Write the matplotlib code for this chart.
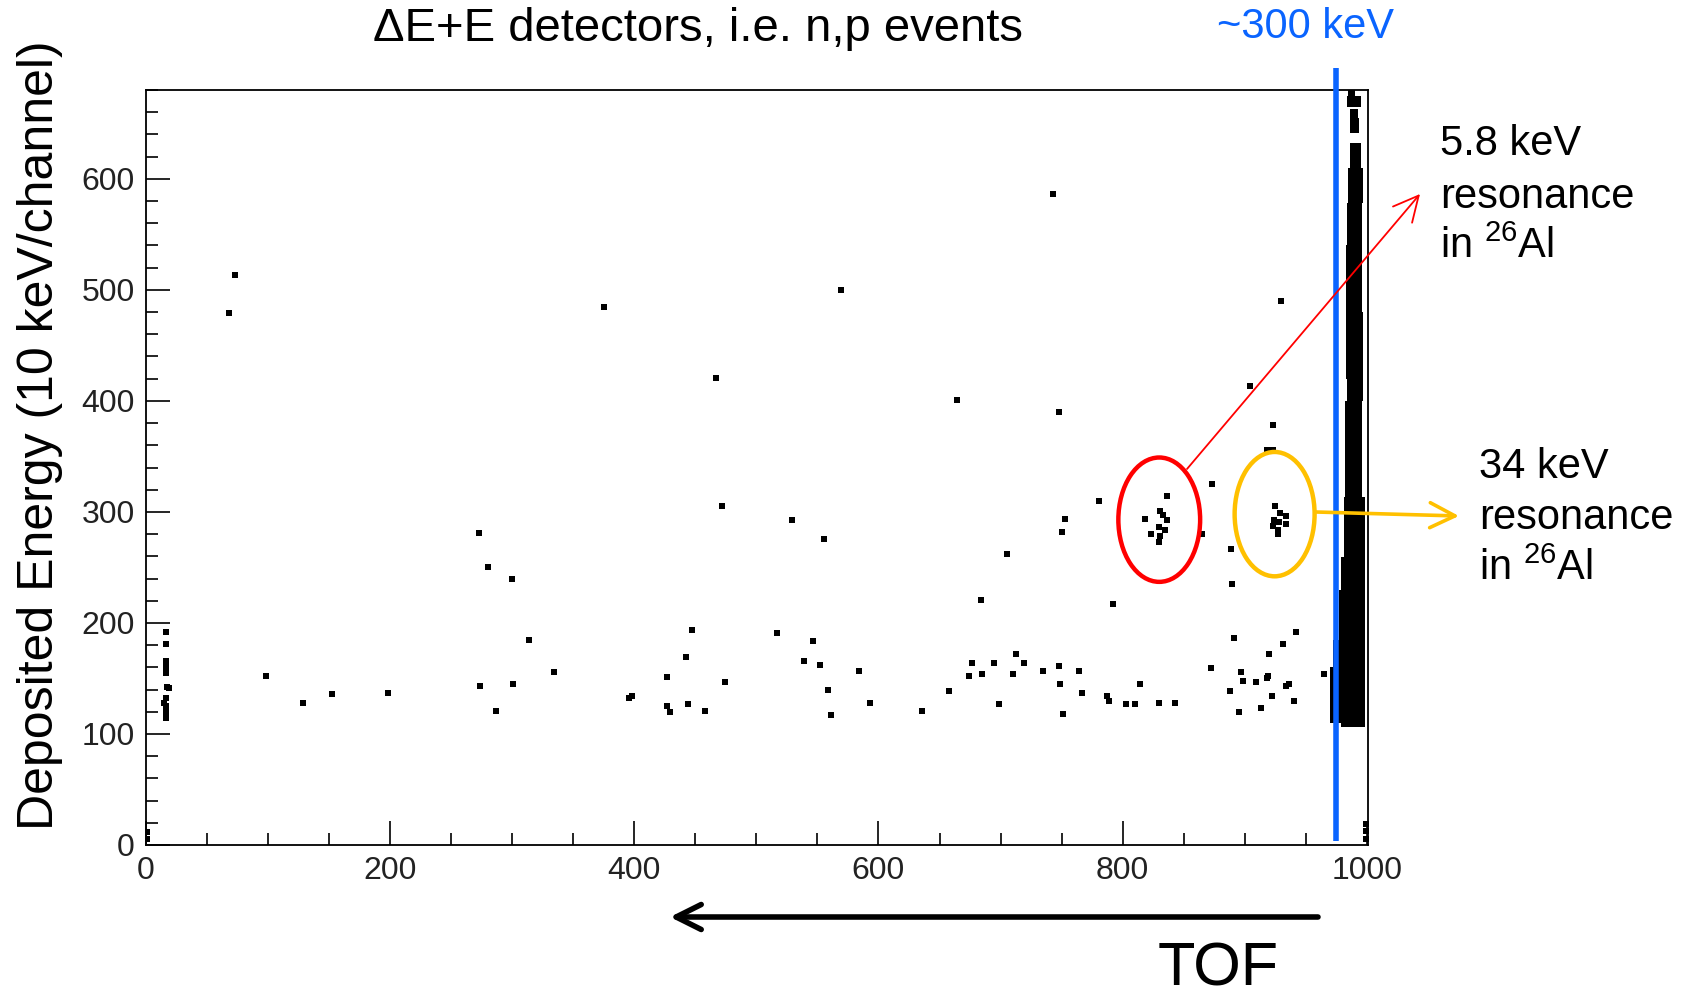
import matplotlib
matplotlib.use("Agg")
import matplotlib.pyplot as plt
from matplotlib.patches import Ellipse
from matplotlib.ticker import MultipleLocator

plt.rcParams['font.family'] = ['Liberation Sans', 'DejaVu Sans']
plt.rcParams['mathtext.fontset'] = 'custom'
plt.rcParams['mathtext.rm'] = 'Liberation Sans'

# ---------------- data (TOF channel, deposited energy channel) ----------------
tof = [16, 16, 16, 16, 16, 17, 19, 16, 15, 16, 16, 16, 16, 1, 1,
       68, 73, 98, 129, 152, 198,
       273, 280, 300, 314, 274, 287, 301, 334, 375,
       396, 398, 427, 427, 429, 442, 444, 447, 458, 474, 467, 472,
       517, 529, 539, 546, 552, 555, 559, 561, 569,
       584, 593, 636, 658, 664, 674, 677, 684, 685, 695, 699, 705, 710, 713,
       719, 735, 743, 748, 749, 751, 748, 753, 750, 764, 767, 781, 787, 789,
       792, 803, 810, 814, 830, 843,
       836, 818, 831, 833, 836, 830, 835, 823, 831, 830,
       865, 873, 872, 888, 889, 890, 891, 895, 897, 899, 904, 909, 913, 918,
       919, 920, 922, 918, 923, 923, 930, 931, 934, 936, 940, 942, 965,
       925, 929, 934, 924, 928, 934, 923, 927, 927,
       999, 999, 999]
energy = [192, 181, 166, 160, 155, 142, 141, 132, 128, 125, 121, 118, 114, 5, 12,
          479, 513, 152, 128, 136, 137,
          281, 250, 240, 185, 143, 121, 145, 156, 485,
          132, 134, 151, 125, 120, 169, 127, 194, 121, 147, 421, 305,
          191, 293, 166, 184, 162, 276, 140, 117, 500,
          157, 128, 121, 139, 401, 152, 164, 221, 154, 164, 127, 262, 154, 172,
          164, 157, 586, 161, 145, 118, 390, 294, 282, 157, 137, 310, 134, 130,
          217, 127, 127, 145, 128, 128,
          314, 294, 301, 297, 293, 286, 284, 280, 278, 273,
          280, 325, 159, 139, 267, 235, 186, 120, 156, 148, 413, 147, 123, 150,
          152, 172, 134, 356, 356, 378, 490, 181, 143, 145, 130, 192, 154,
          305, 299, 296, 293, 291, 289, 287, 284, 280,
          5, 13, 19]

# dense band of events near TOF ~ 1000 (energy strips with TOF extent)
band_e_low = [675, 665, 655, 641, 610, 578, 540, 480, 420, 400, 313, 259, 230, 185, 160, 110, 106]
band_e_high = [682, 675, 663, 655, 632, 610, 578, 540, 480, 420, 400, 313, 259, 230, 185, 160, 110]
band_left = [985, 984, 986, 986, 986, 985, 984, 983, 983, 983.5, 982, 981, 979, 977, 972, 970, 979]
band_right = [990, 995, 993, 994, 995, 997, 996, 996, 997, 997, 996, 998.5, 998.5, 998.5, 998.5, 998.5, 998.5]

cut_tof = 975  # ~300 keV line
red_center, red_w, red_h = (830, 293), 67, 112
yel_center, yel_w, yel_h = (924.5, 298), 65.5, 112

x_ticks = [0, 200, 400, 600, 800, 1000]
y_ticks = [0, 100, 200, 300, 400, 500, 600]

# ---------------- figure ----------------
W, H = 1694, 1001
fig = plt.figure(figsize=(W / 100, H / 100), dpi=100)
ax = fig.add_axes([146 / W, 1 - 845 / H, (1368 - 146) / W, (845 - 90) / H])
ax.set_xlim(0, 1001)
ax.set_ylim(0, 680)

# band
centers = [(lo + hi) / 2 for lo, hi in zip(band_e_low, band_e_high)]
heights = [hi - lo for lo, hi in zip(band_e_low, band_e_high)]
widths = [r - l for l, r in zip(band_left, band_right)]
ax.barh(centers, widths, height=heights, left=band_left, color='black',
        edgecolor='none', zorder=2)

ax.plot(tof, energy, linestyle='none', marker='s', ms=4.6, mew=0, color='black', zorder=3)

# ellipses
ax.add_patch(Ellipse(red_center, red_w, red_h, fill=False, ec='#ff0000', lw=3.2, zorder=4))
ax.add_patch(Ellipse(yel_center, yel_w, yel_h, fill=False, ec='#ffc000', lw=3.2, zorder=4))

# blue 300 keV line
ax.plot([cut_tof, cut_tof], [4, 700], color='#0a64ff', lw=4, clip_on=False, zorder=5,
        solid_capstyle='butt')

ax.set_xticks(x_ticks)
ax.set_yticks(y_ticks)
ax.xaxis.set_minor_locator(MultipleLocator(50))
ax.yaxis.set_minor_locator(MultipleLocator(20))
ax.tick_params(which='both', direction='in', top=False, right=False, width=1.2,
               colors='black', labelcolor='#222222', labelsize=23)
ax.tick_params(which='major', length=17, pad=8)
ax.tick_params(which='minor', length=8.5)
for s in ax.spines.values():
    s.set_linewidth(1.3)

def fp(x, y):
    return (x, H - y)

# annotations (figure pixels)
fig.text(698 / W, 1 - 29 / H, 'ΔE+E detectors, i.e. n,p events', ha='center', va='center',
         fontsize=34)
fig.text(1305 / W, 1 - 27 / H, '~300 keV', ha='center', va='center', fontsize=30,
         color='#0a64ff')
fig.text(40 / W, 1 - 435 / H, 'Deposited Energy (10 keV/channel)', rotation=90,
         ha='center', va='center', fontsize=36)
fig.text(1218 / W, 1 - 970 / H, 'TOF', ha='center', va='center', fontsize=44)

ax.annotate('', xy=fp(670, 917), xycoords='figure pixels', xytext=fp(1318, 917),
            textcoords='figure pixels',
            arrowprops=dict(arrowstyle='->,head_length=0.9,head_width=0.45', lw=4,
                            color='black', mutation_scale=20, shrinkA=0, shrinkB=0),
            annotation_clip=False)
ax.annotate('', xy=fp(1420, 194), xycoords='figure pixels', xytext=fp(1187, 469),
            textcoords='figure pixels',
            arrowprops=dict(arrowstyle='->,head_length=0.9,head_width=0.45', lw=1.3,
                            color='#ff0000', mutation_scale=20, shrinkA=0, shrinkB=0),
            annotation_clip=False, zorder=6)
ax.annotate('', xy=fp(1459, 516), xycoords='figure pixels', xytext=fp(1316, 512),
            textcoords='figure pixels',
            arrowprops=dict(arrowstyle='->,head_length=0.9,head_width=0.45', lw=2.6,
                            color='#ffc000', mutation_scale=20, shrinkA=0, shrinkB=0),
            annotation_clip=False, zorder=6)

for txt, y in [('5.8 keV', 144), ('resonance', 197), (r'in $^{\mathregular{26}}$Al', 247)]:
    fig.text(1440 / W, 1 - y / H, txt, ha='left', va='center', fontsize=30)
for txt, y in [('34 keV', 467), ('resonance', 518), (r'in $^{\mathregular{26}}$Al', 569)]:
    fig.text(1479 / W, 1 - y / H, txt, ha='left', va='center', fontsize=30)

fig.savefig('out.png', dpi=100, facecolor='white')
